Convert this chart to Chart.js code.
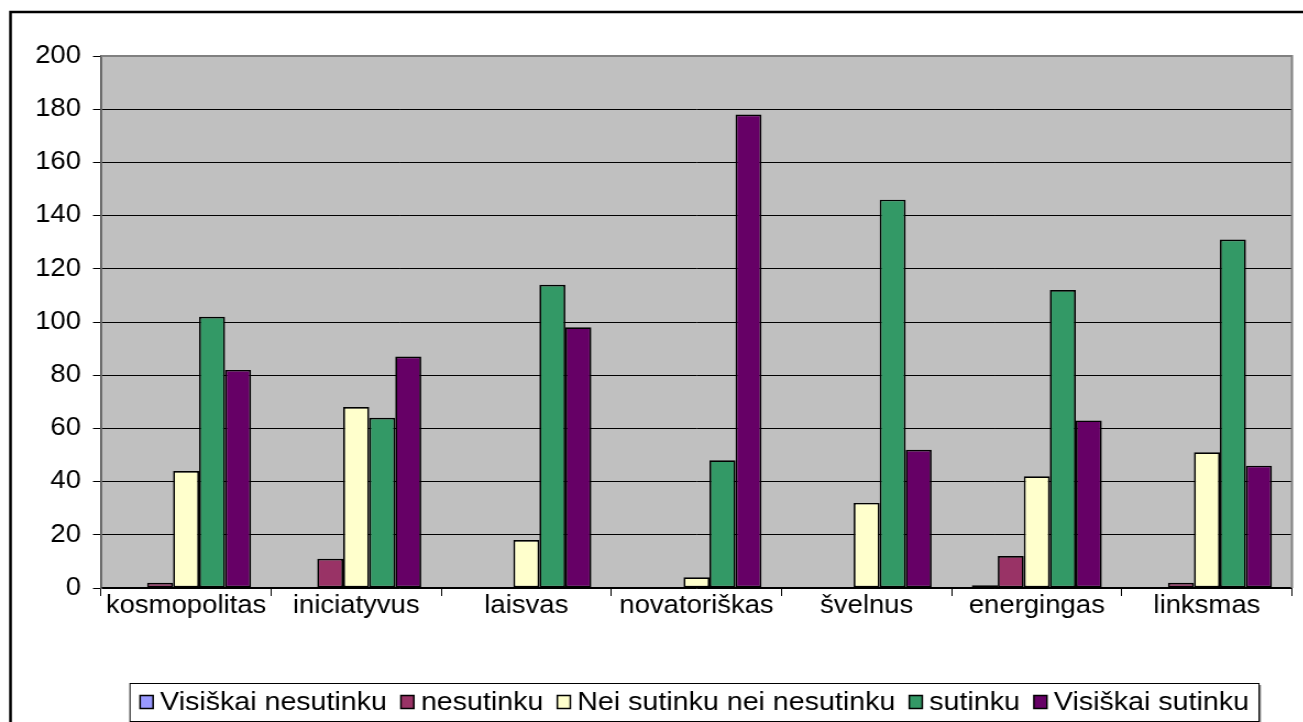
<!DOCTYPE html>
<html>
<head>
<meta charset="utf-8">
<script src="https://cdn.jsdelivr.net/npm/chart.js@4.4.1/dist/chart.umd.min.js"></script>
<style>
  html, body { margin: 0; padding: 0; background: #fff; overflow: hidden; width: 1303px; height: 722px; }
  #wrap { position: absolute; left: 0; top: 0; transform-origin: 0 0; }
  canvas { display: block; }
</style>
</head>
<body>
<div id="wrap"><canvas id="chart"></canvas></div>
<script>
// Survey answers per attribute (number of respondents)
const categories = ['kosmopolitas', 'iniciatyvus', 'laisvas', 'novatoriškas', 'švelnus', 'energingas', 'linksmas'];
const seriesNames = ['Visiškai nesutinku', 'nesutinku', 'Nei sutinku nei nesutinku', 'sutinku', 'Visiškai sutinku'];
const visiskaiNesutinku = [0, 0, 0, 0, 0, 1, 0];
const nesutinku         = [2, 11, 0, 0, 0, 12, 2];
const neiSutinkuNei     = [44, 68, 18, 4, 32, 42, 51];
const sutinku           = [102, 64, 114, 48, 146, 112, 131];
const visiskaiSutinku   = [82, 87, 98, 178, 52, 63, 46];
const yTicks = [0, 20, 40, 60, 80, 100, 120, 140, 160, 180, 200];

// The chart is drawn slightly narrower and widened horizontally by this factor
const STRETCH = 1.1;
const PAGE_W = 1303, PAGE_H = 722;
const W = Math.ceil(PAGE_W / STRETCH);
const px = v => v / STRETCH;   // page x -> canvas x

const wrap = document.getElementById('wrap');
wrap.style.transform = `scaleX(${STRETCH})`;
const canvas = document.getElementById('chart');
canvas.width = W; canvas.height = PAGE_H;
canvas.style.width = W + 'px'; canvas.style.height = PAGE_H + 'px';

const FONT = "'Liberation Sans', Arial, sans-serif";
const AXIS_FONT = 25;
const LEGEND_FONT = 26;
const colors = ['#9999FF', '#993366', '#FFFFCC', '#339966', '#660066'];
const values = [visiskaiNesutinku, nesutinku, neiSutinkuNei, sutinku, visiskaiSutinku];

const PLOT = { left: px(101), right: px(1292), top: 56, bottom: 588 };

const frameAndBackground = {
  id: 'frameAndBackground',
  beforeDraw(chart) {
    const { ctx, chartArea: a } = chart;
    ctx.save();
    ctx.fillStyle = '#C0C0C0';
    ctx.fillRect(a.left, a.top, a.right - a.left, a.bottom - a.top);
    ctx.restore();
  },
  afterDraw(chart) {
    const { ctx, chartArea: a } = chart;
    ctx.save();
    // plot area frame, top and right
    ctx.strokeStyle = '#808080';
    ctx.lineWidth = 2;
    ctx.beginPath();
    ctx.moveTo(a.left, a.top);
    ctx.lineTo(a.right, a.top);
    ctx.lineTo(a.right, a.bottom);
    ctx.stroke();
    // outer chart border
    ctx.strokeStyle = '#000';
    ctx.lineWidth = 2.5;
    ctx.beginPath();
    ctx.moveTo(px(10.5), PAGE_H + 5);
    ctx.lineTo(px(10.5), 12);
    ctx.lineTo(W + 5, 12);
    ctx.stroke();
    ctx.restore();
  }
};

const boxLegend = {
  id: 'boxLegend',
  afterDraw(chart) {
    const { ctx } = chart;
    const box = { l: px(130), r: px(1259), t: 683, b: 721 };
    const sq = px(13), sqH = 13, gapAfterSq = px(7), gapItems = px(14);
    ctx.save();
    // shadow and frame
    ctx.fillStyle = '#808080';
    ctx.fillRect(box.l + px(2), box.t + 2, box.r - box.l, box.b - box.t);
    ctx.fillStyle = '#fff';
    ctx.fillRect(box.l, box.t, box.r - box.l, box.b - box.t);
    ctx.strokeStyle = '#000';
    ctx.lineWidth = 1;
    ctx.strokeRect(box.l, box.t + 0.5, box.r - box.l, box.b - box.t);

    ctx.font = `${LEGEND_FONT}px ${FONT}`;
    ctx.textBaseline = 'middle';
    ctx.textAlign = 'left';
    const items = chart.data.datasets.map(ds => ({ text: ds.label, color: ds.backgroundColor, w: ctx.measureText(ds.label).width }));
    const total = items.reduce((s, it) => s + sq + gapAfterSq + it.w, 0) + gapItems * (items.length - 1);
    let x = (box.l + box.r) / 2 - total / 2;
    const cy = 702;
    items.forEach(it => {
      ctx.fillStyle = it.color;
      ctx.fillRect(x, cy - sqH / 2, sq, sqH);
      ctx.strokeStyle = '#000';
      ctx.lineWidth = 1.5;
      ctx.strokeRect(x, cy - sqH / 2, sq, sqH);
      x += sq + gapAfterSq;
      ctx.fillStyle = '#000';
      ctx.fillText(it.text, x, cy + 1);
      x += it.w + gapItems;
    });
    ctx.restore();
  }
};

new Chart(canvas, {
  type: 'bar',
  data: {
    labels: categories,
    datasets: seriesNames.map((name, i) => ({
      label: name,
      data: values[i],
      backgroundColor: colors[i],
      borderColor: '#000',
      borderWidth: 1.7,
      borderSkipped: false,
      categoryPercentage: 0.764,
      barPercentage: 1.0
    }))
  },
  options: {
    responsive: false,
    animation: false,
    devicePixelRatio: 1,
    layout: { padding: { left: 0, right: W - PLOT.right, top: PLOT.top, bottom: 0 } },
    plugins: { legend: { display: false }, tooltip: { enabled: false } },
    scales: {
      x: {
        afterFit(scale) { scale.height = PAGE_H - PLOT.bottom; },
        grid: { offset: true, drawOnChartArea: false, drawTicks: true, tickLength: 8, color: '#000', lineWidth: 1 },
        border: { display: true, color: '#000', width: 1.2 },
        ticks: { color: '#000', padding: -2, font: { family: FONT, size: AXIS_FONT, lineHeight: 1 }, maxRotation: 0, autoSkip: false }
      },
      y: {
        min: 0, max: 200,
        afterFit(scale) { scale.width = PLOT.left; },
        afterBuildTicks(scale) { scale.ticks = yTicks.map(v => ({ value: v })); },
        grid: { color: '#000', lineWidth: 1, tickLength: px(8), drawTicks: true },
        border: { display: true, color: '#555', width: 1.7 },
        ticks: { color: '#000', padding: px(12), font: { family: FONT, size: AXIS_FONT } }
      }
    }
  },
  plugins: [frameAndBackground, boxLegend]
});
</script>
</body>
</html>
